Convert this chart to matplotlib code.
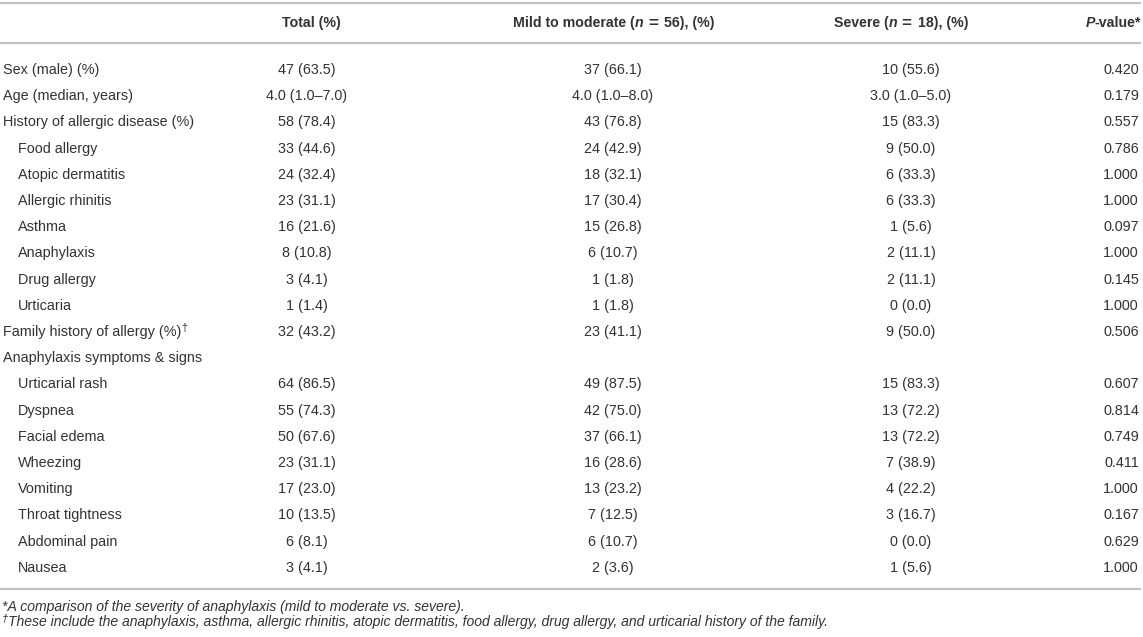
import numpy as np
import matplotlib
matplotlib.use('Agg')
import matplotlib.pyplot as plt

plt.rcParams['font.family'] = ['Liberation Sans', 'DejaVu Sans']

# ---- table content ----
row_labels = ['Sex (male) (%)', 'Age (median, years)', 'History of allergic disease (%)',
              'Food allergy', 'Atopic dermatitis', 'Allergic rhinitis', 'Asthma',
              'Anaphylaxis', 'Drug allergy', 'Urticaria', 'Family history of allergy (%)',
              'Anaphylaxis symptoms & signs', 'Urticarial rash', 'Dyspnea', 'Facial edema',
              'Wheezing', 'Vomiting', 'Throat tightness', 'Abdominal pain', 'Nausea']
indented = [3, 4, 5, 6, 7, 8, 9, 12, 13, 14, 15, 16, 17, 18, 19]
dagger_rows = [10]

total = ['47 (63.5)', '4.0 (1.0\u20137.0)', '58 (78.4)', '33 (44.6)', '24 (32.4)',
         '23 (31.1)', '16 (21.6)', '8 (10.8)', '3 (4.1)', '1 (1.4)', '32 (43.2)', '',
         '64 (86.5)', '55 (74.3)', '50 (67.6)', '23 (31.1)', '17 (23.0)', '10 (13.5)',
         '6 (8.1)', '3 (4.1)']
mild = ['37 (66.1)', '4.0 (1.0\u20138.0)', '43 (76.8)', '24 (42.9)', '18 (32.1)',
        '17 (30.4)', '15 (26.8)', '6 (10.7)', '1 (1.8)', '1 (1.8)', '23 (41.1)', '',
        '49 (87.5)', '42 (75.0)', '37 (66.1)', '16 (28.6)', '13 (23.2)', '7 (12.5)',
        '6 (10.7)', '2 (3.6)']
severe = ['10 (55.6)', '3.0 (1.0\u20135.0)', '15 (83.3)', '9 (50.0)', '6 (33.3)',
          '6 (33.3)', '1 (5.6)', '2 (11.1)', '2 (11.1)', '0 (0.0)', '9 (50.0)', '',
          '15 (83.3)', '13 (72.2)', '13 (72.2)', '7 (38.9)', '4 (22.2)', '3 (16.7)',
          '0 (0.0)', '1 (5.6)']
pvals = ['0.420', '0.179', '0.557', '0.786', '1.000', '1.000', '0.097', '1.000',
         '0.145', '1.000', '0.506', '', '0.607', '0.814', '0.749', '0.411', '1.000',
         '0.167', '0.629', '1.000']

footnote1 = '*A comparison of the severity of anaphylaxis (mild to moderate vs. severe).'
footnote2 = ('These include the anaphylaxis, asthma, allergic rhinitis, atopic dermatitis, '
             'food allergy, drug allergy, and urticarial history of the family.')

TXT = '#333333'
RULE = '#c2c2c2'
FS = 10.4
HFS = 10.2
NFS = 10.1

fig = plt.figure(figsize=(11.43, 6.37), dpi=100)
ax = fig.add_axes([0, 0, 1, 1])
ax.set_xlim(0, 1143)
ax.set_ylim(637, 0)
ax.axis('off')
renderer = fig.canvas.get_renderer()


def put_runs(x, y, runs, ha='center', size=FS):
    """Draw pieces of text with different styles one after another."""
    widths = []
    for s, kw in runs:
        if 'gap' in kw:
            widths.append(kw['gap'])
            continue
        t = ax.text(0, 0, s, fontsize=size * kw.get('scale', 1.0),
                    fontweight=kw.get('weight', 'normal'), fontstyle=kw.get('style', 'normal'))
        widths.append(t.get_window_extent(renderer).width)
        t.remove()
    full = sum(widths)
    if ha == 'center':
        x0 = x - full / 2
    elif ha == 'right':
        x0 = x - full
    else:
        x0 = x
    for (s, kw), w in zip(runs, widths):
        if 'gap' not in kw:
            ax.text(x0, y + kw.get('dy', 0), s, fontsize=size * kw.get('scale', 1.0),
                    fontweight=kw.get('weight', 'normal'), fontstyle=kw.get('style', 'normal'),
                    color=TXT, ha='left', va='center')
        x0 += w


# rules
for yy in (3.3, 42.7, 589.3):
    ax.plot([0, 1141], [yy, yy], color=RULE, lw=1.6, solid_capstyle='butt')

# header
B = {'weight': 'bold'}
BI = {'weight': 'bold', 'style': 'italic'}
EQ = {'weight': 'bold', 'scale': 1.2, 'dy': 0.5}
G1 = {'gap': 4.5}
G2 = {'gap': 6.0}
hy = 22.7
put_runs(311, hy, [('Total (%)', B)], size=HFS)
put_runs(614, hy, [('Mild to moderate (', B), ('n', BI), ('', G1), ('=', EQ), ('', G2),
                   ('56), (%)', B)], size=HFS)
put_runs(901, hy, [('Severe (', B), ('n', BI), ('', G1), ('=', EQ), ('', G2),
                   ('18), (%)', B)], size=HFS)
put_runs(1141, hy, [('P', BI), ('-value*', B)], ha='right', size=HFS)

# body
row_y = 70 + 26.2 * np.arange(len(row_labels))
for i, y in enumerate(row_y):
    lx = 18 if i in indented else 3
    runs = [(row_labels[i], {})]
    if i in dagger_rows:
        runs.append(('\u2020', {'scale': 0.75, 'dy': -4}))
    put_runs(lx, y, runs, ha='left')
    ax.text(307, y, total[i], fontsize=FS, color=TXT, ha='center', va='center')
    ax.text(613, y, mild[i], fontsize=FS, color=TXT, ha='center', va='center')
    ax.text(911, y, severe[i], fontsize=FS, color=TXT, ha='center', va='center')
    ax.text(1139, y, pvals[i], fontsize=FS, color=TXT, ha='right', va='center')

# footnotes
I = {'style': 'italic'}
put_runs(2, 607, [(footnote1, I)], ha='left', size=NFS)
put_runs(2, 622, [('\u2020', {'style': 'italic', 'scale': 0.8, 'dy': -3}), (footnote2, I)],
         ha='left', size=NFS)

fig.savefig('out.png', dpi=100)
